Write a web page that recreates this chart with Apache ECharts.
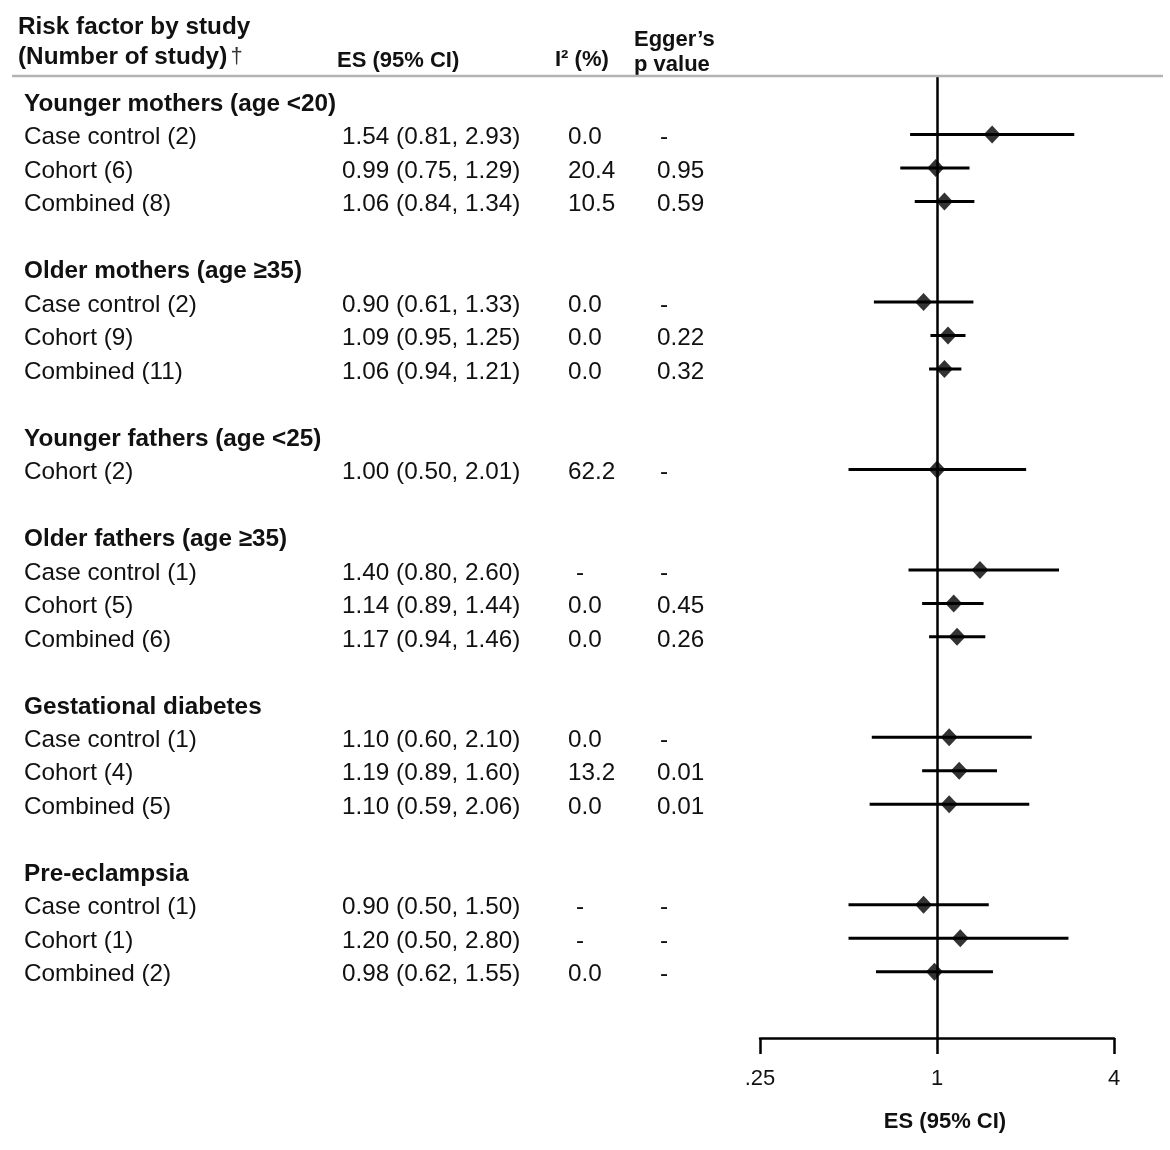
<!DOCTYPE html>
<html>
<head>
<meta charset="utf-8">
<script src="https://cdn.jsdelivr.net/npm/echarts@6/dist/echarts.min.js"></script>
<style>
  html, body { margin: 0; padding: 0; background: #fff; }
  #chart { width: 1170px; height: 1150px; }
</style>
</head>
<body>
<div id="chart"></div>
<script>
// rows of the table, top to bottom ('' = spacer row)
var rowLabels = [
  'Younger mothers (age <20)', 'Case control (2)', 'Cohort (6)', 'Combined (8)', '',
  'Older mothers (age \u226535)', 'Case control (2)', 'Cohort (9)', 'Combined (11)', '',
  'Younger fathers (age <25)', 'Cohort (2)', '',
  'Older fathers (age \u226535)', 'Case control (1)', 'Cohort (5)', 'Combined (6)', '',
  'Gestational diabetes', 'Case control (1)', 'Cohort (4)', 'Combined (5)', '',
  'Pre-eclampsia', 'Case control (1)', 'Cohort (1)', 'Combined (2)'
];
var boldRows = [0, 5, 10, 13, 18, 23];

// effect size and 95% CI per row (null = no estimate)
var es = [null, 1.54, 0.99, 1.06, null, null, 0.90, 1.09, 1.06, null, null, 1.00, null,
  null, 1.40, 1.14, 1.17, null, null, 1.10, 1.19, 1.10, null, null, 0.90, 1.20, 0.98];
var lo = [null, 0.81, 0.75, 0.84, null, null, 0.61, 0.95, 0.94, null, null, 0.50, null,
  null, 0.80, 0.89, 0.94, null, null, 0.60, 0.89, 0.59, null, null, 0.50, 0.50, 0.62];
var hi = [null, 2.93, 1.29, 1.34, null, null, 1.33, 1.25, 1.21, null, null, 2.01, null,
  null, 2.60, 1.44, 1.46, null, null, 2.10, 1.60, 2.06, null, null, 1.50, 2.80, 1.55];
// I2 (%) and Egger's p ('-' = not available)
var i2 = [null, 0.0, 20.4, 10.5, null, null, 0.0, 0.0, 0.0, null, null, 62.2, null,
  null, '-', 0.0, 0.0, null, null, 0.0, 13.2, 0.0, null, null, '-', '-', 0.0];
var egger = [null, '-', 0.95, 0.59, null, null, '-', 0.22, 0.32, null, null, '-', null,
  null, '-', 0.45, 0.26, null, null, '-', 0.01, 0.01, null, null, '-', '-', '-'];

var xTicks = [0.25, 1, 4];
var xTickLabels = ['.25', '1', '4'];
var axisTitle = 'ES (95% CI)';

var FONT = '"Liberation Sans", Arial, sans-serif';
var chart = echarts.init(document.getElementById('chart'));

/*数据整理*/
var ciData = [], pointData = [], textData = [];
for (var r = 0; r < rowLabels.length; r++) {
  if (es[r] != null) {
    ciData.push([r, lo[r], hi[r]]);
    pointData.push([es[r], r]);
  }
  if (rowLabels[r] !== '') textData.push([1, r]);
}

function fmt(v, d) {
  if (v === '-') return '-';
  return v.toFixed(d);
}

/*误差线*/
function renderCI(params, api) {
  var r = api.value(0);
  var a = api.coord([api.value(1), r]);
  var b = api.coord([api.value(2), r]);
  return {
    type: 'line',
    shape: { x1: a[0], y1: a[1], x2: b[0], y2: b[1] },
    style: { stroke: '#000', lineWidth: 3 }
  };
}

/*左侧表格文字*/
function renderText(params, api) {
  var r = api.value(1);
  var y = api.coord([1, r])[1] + 3;
  var bold = boldRows.indexOf(r) >= 0;
  var base = { fill: '#111', verticalAlign: 'middle', align: 'left', fontFamily: FONT, fontSize: 24.3 };
  var kids = [{
    type: 'text', x: 24, y: y,
    style: Object.assign({}, base, { text: rowLabels[r], fontWeight: bold ? 'bold' : 'normal' })
  }];
  if (es[r] != null) {
    kids.push({
      type: 'text', x: 342, y: y,
      style: Object.assign({}, base, { text: es[r].toFixed(2) + ' (' + lo[r].toFixed(2) + ', ' + hi[r].toFixed(2) + ')' })
    });
    kids.push({
      type: 'text', x: i2[r] === '-' ? 576 : 568, y: y,
      style: Object.assign({}, base, { text: fmt(i2[r], 1) })
    });
    kids.push({
      type: 'text', x: egger[r] === '-' ? 660 : 657, y: y,
      style: Object.assign({}, base, { text: fmt(egger[r], 2) })
    });
  }
  return { type: 'group', children: kids };
}

var headStyle = { fill: '#111', fontFamily: FONT, fontWeight: 'bold', verticalAlign: 'middle' };

var option = {
  animation: false,
  backgroundColor: '#fff',
  grid: { left: 760, right: 56, top: 76, bottom: 112 },
  xAxis: {
    type: 'log',
    logBase: 4,
    min: 0.25,
    max: 4,
    splitNumber: 2,
    position: 'bottom',
    name: axisTitle,
    nameLocation: 'middle',
    nameGap: 73,
    nameTextStyle: { color: '#111', fontFamily: FONT, fontWeight: 'bold', fontSize: 22, padding: [0, 0, 0, 16] },
    axisLine: { show: true, onZero: false, lineStyle: { color: '#000', width: 2.5 } },
    axisTick: { show: true, inside: false, length: 16, lineStyle: { color: '#000', width: 2.5 } },
    axisLabel: {
      margin: 30,
      color: '#111',
      fontFamily: FONT,
      fontSize: 22,
      formatter: function (v) {
        for (var i = 0; i < xTicks.length; i++) {
          if (Math.abs(v - xTicks[i]) < 1e-6) return xTickLabels[i];
        }
        return '';
      }
    },
    splitLine: { show: false },
    minorTick: { show: false }
  },
  yAxis: {
    type: 'value',
    inverse: true,
    min: -0.75,
    max: 27.98,
    show: false
  },
  graphic: [
    { type: 'line', shape: { x1: 12, y1: 76, x2: 1163, y2: 76 }, style: { stroke: '#b3b3b3', lineWidth: 2.5 }, z: 10 },
    { type: 'text', x: 18, y: 27, style: Object.assign({}, headStyle, { text: 'Risk factor by study', fontSize: 24.3 }) },
    { type: 'text', x: 18, y: 57, style: Object.assign({}, headStyle, {
        text: '{b|(Number of study)} {d|\u2020}',
        rich: {
          b: { fontFamily: FONT, fontWeight: 'bold', fontSize: 24.3, fill: '#111' },
          d: { fontFamily: FONT, fontWeight: 'normal', fontSize: 22, fill: '#333' }
        }
      }) },
    { type: 'text', x: 337, y: 61, style: Object.assign({}, headStyle, { text: 'ES (95% CI)', fontSize: 22 }) },
    { type: 'text', x: 555, y: 60, style: Object.assign({}, headStyle, { text: 'I\u00b2 (%)', fontSize: 22 }) },
    { type: 'text', x: 634, y: 40, style: Object.assign({}, headStyle, { text: 'Egger\u2019s', fontSize: 22 }) },
    { type: 'text', x: 634, y: 65, style: Object.assign({}, headStyle, { text: 'p value', fontSize: 22 }) }
  ],
  series: [
    {
      type: 'custom',
      renderItem: renderCI,
      data: ciData,
      encode: { x: [1, 2], y: 0 },
      silent: true,
      z: 2
    },
    {
      type: 'scatter',
      symbol: 'diamond',
      symbolSize: [17, 18],
      itemStyle: { color: '#000' },
      data: pointData,
      silent: true,
      z: 3,
      markLine: {
        silent: true,
        symbol: ['none', 'none'],
        label: { show: false },
        lineStyle: { color: '#000', width: 2.5, type: 'solid' },
        data: [{ xAxis: 1 }]
      }
    },
    {
      type: 'custom',
      renderItem: renderText,
      data: textData,
      encode: { x: 0, y: 1 },
      clip: false,
      silent: true
    }
  ]
};

chart.setOption(option);
</script>
</body>
</html>
